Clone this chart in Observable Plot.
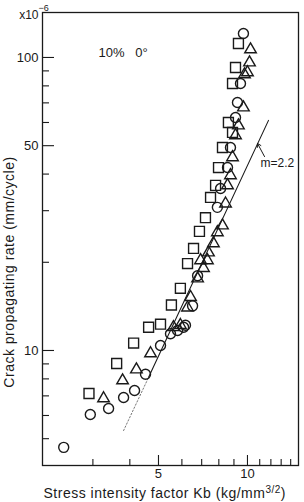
<!DOCTYPE html>
<html><head><meta charset="utf-8">
<script src="https://cdn.jsdelivr.net/npm/d3@7"></script>
<script src="https://cdn.jsdelivr.net/npm/@observablehq/plot@0.6"></script>
<style>html,body{margin:0;padding:0;background:#fff} svg{display:block}</style>
</head><body><div id="chart"></div>
<script>
// Stress intensity factor Kb (kg/mm^3/2) and crack propagating rate (x10^-6 mm/cycle)
const squareK    = [9.32, 9.11, 8.90, 8.62, 8.90, 8.23, 7.98, 7.80, 7.50, 7.21, 6.88, 6.57, 6.27, 5.93, 5.53, 5.08, 4.63, 4.12, 3.61, 2.91];
const squareRate = [111.6, 92.4, 81.5, 60.0, 55.5, 49.3, 42.1, 36.6, 33.3, 28.4, 25.5, 22.3, 19.8, 16.3, 14.3, 12.3, 12.0, 10.6, 9.03, 7.13];

const triangleK    = [10.24, 10.16, 10.0, 9.77, 9.69, 9.32, 9.11, 8.90, 8.76, 8.56, 8.43, 8.23, 7.91, 7.67, 7.38, 7.32, 6.94, 7.10, 6.78, 6.42, 6.27, 5.93, 5.62, 4.70, 4.21, 3.78, 3.26];
const triangleRate = [106.5, 96.1, 88.9, 87.5, 67.5, 58.6, 54.2, 45.6, 39.6, 36.6, 31.7, 26.7, 25.3, 23.2, 21.6, 20.3, 20.3, 19.1, 17.6, 15.2, 14.0, 12.2, 12.0, 9.77, 8.61, 7.90, 6.86];

const circleK    = [9.69, 9.47, 9.25, 9.11, 8.76, 8.56, 8.11, 7.91, 6.78, 6.52, 6.17, 6.08, 5.80, 5.49, 5.08, 4.52, 4.15, 3.81, 3.39, 2.94, 2.39];
const circleRate = [120.8, 81.5, 70.2, 62.4, 49.3, 42.1, 35.7, 30.8, 18.0, 14.2, 12.2, 12.0, 11.7, 11.4, 10.4, 8.3, 7.30, 6.91, 6.34, 6.05, 4.67];

// fitted line m = 2.2 (read end points); lower part faint/dotted
const fitLowK  = [3.81, 4.63];
const fitLowRate = [5.33, 8.1];
const fitHighK = [4.63, 11.78];
const fitHighRate = [8.1, 61];

// axis ticks
const xMajor = [5, 10];
const xMinor = [3, 4, 6, 7, 8, 9, 11, 12, 13, 14];
const yMajor = [10, 50, 100];
const yMinor = [5, 6, 7, 8, 9, 20, 30, 40, 60, 70, 80, 90];

// annotation arrow (tail -> tip on the line)
const arrowFrom = {K: 11.42, rate: 45.9};
const arrowTo   = {K: 10.81, rate: 50.9};

const W = 304, H = 502, mL = 42, mR = 6, mT = 12, mB = 37;
const innerW = W - mL - mR, innerH = H - mT - mB;
const font = "'Liberation Sans', Arial, Helvetica, sans-serif";
const ink = "#1a1a1a";
const pts = (K, R) => K.map((k, i) => ({K: k, rate: R[i]}));

const chart = Plot.plot({
  width: W, height: H,
  marginLeft: mL, marginRight: mR, marginTop: mT, marginBottom: mB,
  style: {fontFamily: font, background: "#fff", color: ink, overflow: "visible"},
  x: {type: "log", domain: [2.026, 14.88]},
  y: {type: "log", domain: [4.05, 142.4]},
  marks: [
    Plot.frame({stroke: ink, strokeWidth: 1.3}),
    Plot.tickX(xMinor, {x: d => d, insetTop: innerH - 6, stroke: ink, strokeWidth: 1.1}),
    Plot.tickX(xMajor, {x: d => d, insetTop: innerH - 10, stroke: ink, strokeWidth: 1.1}),
    Plot.tickY(yMinor, {y: d => d, insetRight: innerW - 7, stroke: ink, strokeWidth: 1.1}),
    Plot.tickY(yMajor, {y: d => d, insetRight: innerW - 12, stroke: ink, strokeWidth: 1.1}),
    Plot.axisX({ticks: xMajor, tickSize: 0, tickPadding: 3, fontSize: 13, tickFormat: d => String(d), label: null}),
    Plot.axisY({ticks: yMajor, tickSize: 0, tickPadding: 4, fontSize: 13, tickFormat: d => String(d), label: null}),
    Plot.line(pts(fitLowK, fitLowRate), {x: "K", y: "rate", stroke: "#777", strokeWidth: 1, strokeDasharray: "1.5,2"}),
    Plot.line(pts(fitHighK, fitHighRate), {x: "K", y: "rate", stroke: ink, strokeWidth: 1.1}),
    Plot.dot(pts(squareK, squareRate), {x: "K", y: "rate", symbol: "square", r: 5.6, stroke: ink, strokeWidth: 1.4, fill: "none"}),
    Plot.dot(pts(triangleK, triangleRate), {x: "K", y: "rate", symbol: "triangle", r: 4.3, stroke: ink, strokeWidth: 1.4, fill: "none"}),
    Plot.dot(pts(circleK, circleRate), {x: "K", y: "rate", symbol: "circle", r: 5, stroke: ink, strokeWidth: 1.4, fill: "none"}),
    Plot.arrow([{a: arrowFrom, b: arrowTo}], {x1: d => d.a.K, y1: d => d.a.rate, x2: d => d.b.K, y2: d => d.b.rate, stroke: ink, strokeWidth: 1, headLength: 6}),
    Plot.text(["m=2.2"], {frameAnchor: "top-left", dx: 218, dy: 151, textAnchor: "start", lineAnchor: "middle", fontSize: 12, fill: ink}),
    Plot.text(["10%\u00a0\u00a0\u00a00°"], {frameAnchor: "top-left", dx: 56, dy: 40, textAnchor: "start", lineAnchor: "middle", fontSize: 13, fill: ink}),
    Plot.text(["x10"], {frameAnchor: "top-left", dx: -4, dy: 3, textAnchor: "end", lineAnchor: "middle", fontSize: 12, fill: ink}),
    Plot.text(["\u22126"], {frameAnchor: "top-left", dx: -4, dy: -4, textAnchor: "start", lineAnchor: "middle", fontSize: 9, fill: ink}),
    Plot.text(["Crack propagating rate (mm/cycle)"], {frameAnchor: "left", dx: -33, dy: 33, rotate: -90, textAnchor: "middle", lineAnchor: "middle", fontSize: 14, fill: ink}),
    Plot.text(["Stress intensity factor Kb (kg/mm)"], {frameAnchor: "bottom-left", dx: 1, dy: 32, textAnchor: "start", lineAnchor: "bottom", fontSize: 14, fill: ink})
  ]
});

chart.querySelectorAll("text").forEach(t => {
  if (t.textContent === "Crack propagating rate (mm/cycle)") {
    t.setAttribute("letter-spacing", "0.5");
  }
  if (t.textContent === "Stress intensity factor Kb (kg/mm)") {
    // superscript 3/2 in the x label
    t.setAttribute("letter-spacing", "0.5");
    t.textContent = "Stress intensity factor Kb (kg/mm";
    const ns = "http://www.w3.org/2000/svg";
    const sup = document.createElementNS(ns, "tspan");
    sup.setAttribute("dy", "-5"); sup.setAttribute("font-size", "10"); sup.textContent = "3/2";
    const close = document.createElementNS(ns, "tspan");
    close.setAttribute("dy", "5"); close.setAttribute("font-size", "14"); close.textContent = ")";
    t.appendChild(sup); t.appendChild(close);
  }
});
document.getElementById("chart").appendChild(chart);
</script>
</body></html>
